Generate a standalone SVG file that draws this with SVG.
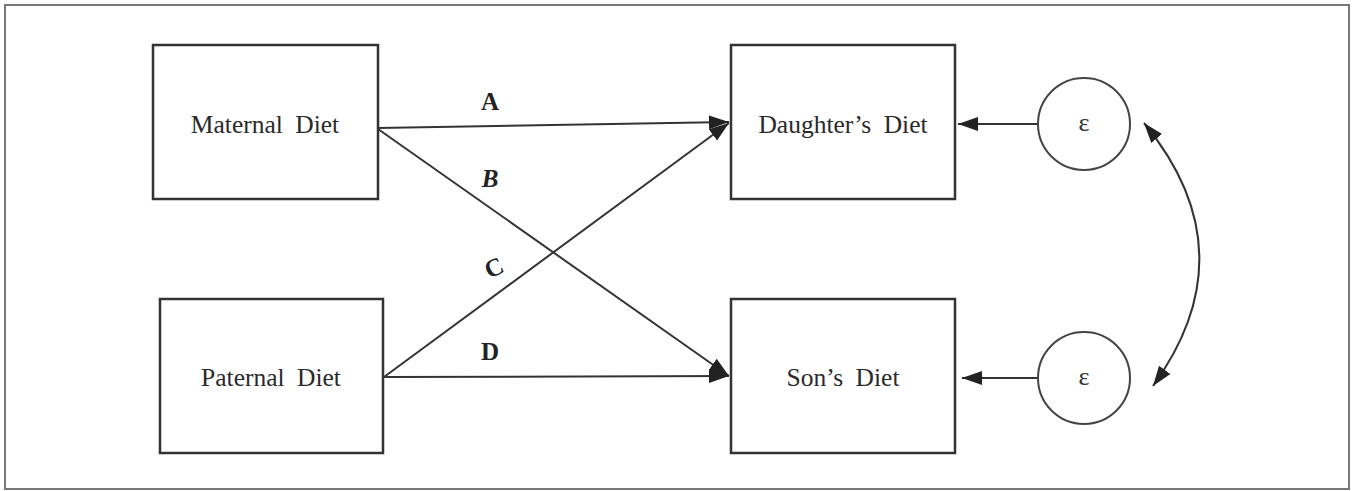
<svg xmlns="http://www.w3.org/2000/svg" width="1355" height="491" viewBox="0 0 1355 491">
<style>
.box{fill:#fff;stroke:#333;stroke-width:2.5}
.circ{fill:#fff;stroke:#444;stroke-width:2}
.t{font-family:"Liberation Serif","Times New Roman",serif;font-size:25.5px;fill:#2a2a2a;text-anchor:middle;word-spacing:6px}
.lb{font-family:"Liberation Serif","Times New Roman",serif;font-size:25px;font-weight:bold;fill:#222;text-anchor:middle}
.eps{font-family:"Liberation Serif","Times New Roman",serif;font-size:26px;fill:#333;text-anchor:middle}
.c{fill:none;stroke:#333;stroke-width:2}
</style>
<defs>
<marker id="ah2" viewBox="0 0 20 20" refX="20" refY="10" markerWidth="20" markerHeight="20" markerUnits="userSpaceOnUse" orient="auto">
<path d="M0,3 L20,10 L0,17 z" fill="#222"/>
</marker>
<marker id="ah2s" viewBox="0 0 20 20" refX="20" refY="10" markerWidth="20" markerHeight="20" markerUnits="userSpaceOnUse" orient="auto-start-reverse">
<path d="M0,3 L20,10 L0,17 z" fill="#222"/>
</marker>
</defs>
<rect x="5" y="5" width="1344" height="484" fill="#fff" stroke="#777" stroke-width="2"/>
<g id="connectors">
<line class="c" x1="378" y1="128" x2="729" y2="122" marker-end="url(#ah2)"/>
<line class="c" x1="378" y1="129" x2="729" y2="376" marker-end="url(#ah2)"/>
<line class="c" x1="384" y1="377" x2="729" y2="123" marker-end="url(#ah2)"/>
<line class="c" x1="384" y1="377" x2="729" y2="376" marker-end="url(#ah2)"/>
<line class="c" x1="1038" y1="124" x2="958" y2="124" marker-end="url(#ah2)"/>
<line class="c" x1="1038" y1="378" x2="962" y2="378" marker-end="url(#ah2)"/>
<path class="c" d="M1144,123 Q1250,252 1153,386" marker-start="url(#ah2s)" marker-end="url(#ah2)"/>
<text class="lb" x="490" y="110">A</text>
<text class="lb" x="490" y="187" font-style="italic">B</text>
<text class="lb" x="494" y="276" transform="rotate(-25 494 268)">C</text>
<text class="lb" x="490" y="360">D</text>
</g>
<g id="maternal">
<rect class="box" x="153" y="45" width="225" height="154"/>
<text class="t" x="265" y="133">Maternal Diet</text>
</g>
<g id="paternal">
<rect class="box" x="160" y="299" width="223" height="154"/>
<text class="t" x="271" y="386">Paternal Diet</text>
</g>
<g id="daughter">
<rect class="box" x="731" y="45" width="224" height="154"/>
<text class="t" x="843" y="133">Daughter’s Diet</text>
</g>
<g id="son">
<rect class="box" x="731" y="299" width="224" height="154"/>
<text class="t" x="843" y="386">Son’s Diet</text>
</g>
<g id="e1">
<circle class="circ" cx="1084" cy="124" r="46"/>
<text class="eps" x="1084" y="131">ε</text>
</g>
<g id="e2">
<circle class="circ" cx="1084" cy="378" r="46"/>
<text class="eps" x="1084" y="385">ε</text>
</g>
</svg>
